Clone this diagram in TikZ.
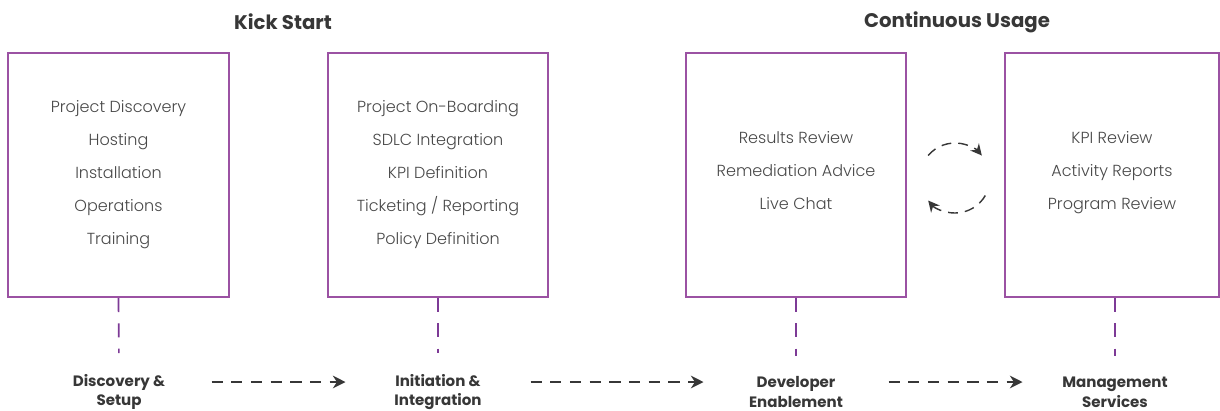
\documentclass[tikz,border=0pt]{standalone}
\usepackage{fontspec}
\setmainfont{Poppins}
\newfontfamily\lightfont{Poppins Light}
\usetikzlibrary{positioning}
\usetikzlibrary{arrows.meta}
\definecolor{boxpurple}{RGB}{155,82,163}
\definecolor{linepurple}{RGB}{125,58,150}
\definecolor{textgray}{RGB}{72,72,72}
\definecolor{arrowgray}{RGB}{55,55,55}

\begin{document}
\begin{tikzpicture}[x=0.025cm,y=0.025cm,>={Stealth[length=9pt,width=9pt]},
	stage box/.style={rectangle,draw=boxpurple,line width=1.4pt,minimum width=5.5cm,minimum height=6.1cm,align=center,text=textgray,font=\lightfont\fontsize{11.4}{23.5}\selectfont},
	phase label/.style={align=center,text=arrowgray,font=\bfseries\fontsize{10.7}{14}\selectfont,minimum width=3.25cm},
	title label/.style={text=arrowgray,font=\bfseries\fontsize{14}{16}\selectfont},
	link/.style={draw=linepurple,line width=1.2pt,dash pattern=on 10pt off 8pt,shorten >=0.4cm},
	flow/.style={->,draw=arrowgray,line width=1.1pt,dash pattern=on 8pt off 6pt,shorten <=0.68cm,shorten >=0.68cm},
	cycle arrow/.style={->,>={Stealth[length=8pt,width=8pt]},draw=arrowgray,line width=1pt,dash pattern=on 7pt off 5pt}]
		
		\useasboundingbox (0,0) rectangle (1220,-410);
		
		\node[title label] at (283,-22) (kickstart) {Kick Start};
		\node[title label] at (957,-22) (usage) {Continuous Usage};
		
		\node[stage box] at (118.5,-175) (discovery) {Project Discovery\\Hosting\\Installation\\Operations\\Training\\[-20pt]\mbox{}};
		\node[stage box] at (438,-175) (onboarding) {Project On-Boarding\\SDLC Integration\\KPI Definition\\Ticketing / Reporting\\Policy Definition\\[-20pt]\mbox{}};
		\node[stage box] at (796,-175) (review) {Results Review\\Remediation Advice\\Live Chat\\[-17pt]};
		\node[stage box,minimum width=5.35cm] at (1112,-175) (kpi) {KPI Review\\Activity Reports\\Program Review\\[-17pt]};
		
		\node[phase label] at (119,-392) (setup) {Discovery \&\\Setup};
		\node[phase label] at (438,-392) (initiation) {Initiation \&\\Integration};
		\node[phase label] at (796,-392) (enablement) {Developer\\Enablement};
		\node[phase label] at (1115,-392) (services) {Management\\Services};
		
		\coordinate (loop) at (955,-178);
		
		\draw[link] (discovery.south) -- (setup.north);
		\draw[link] (onboarding.south) -- (initiation.north);
		\draw[link] (review.south) -- (enablement.north);
		\draw[link] (services.north |- kpi.south) -- (services.north);
		
		\draw[flow] ([yshift=0.25cm]setup.east) -- ([yshift=0.25cm]initiation.west);
		\draw[flow] ([yshift=0.25cm]initiation.east) -- ([yshift=0.25cm]enablement.west);
		\draw[flow] ([yshift=0.25cm]enablement.east) -- ([yshift=0.25cm]services.west);
		
		\draw[cycle arrow] ([shift={(140:35)}]loop) arc[start angle=140,end angle=40,radius=0.875cm];
		\draw[cycle arrow] ([shift={(-30:35)}]loop) arc[start angle=-30,end angle=-140,radius=0.875cm];
		
\end{tikzpicture}
\end{document}
